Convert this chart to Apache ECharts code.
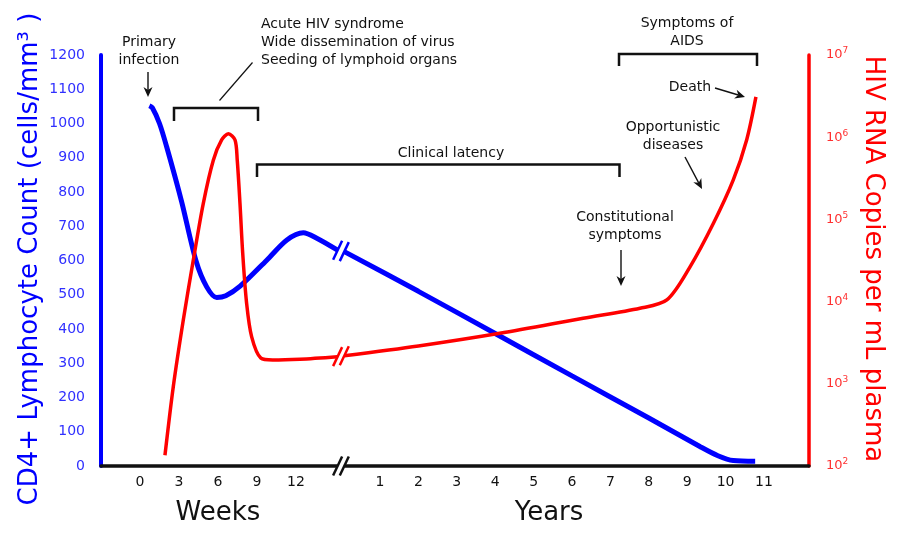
<!DOCTYPE html>
<html><head><meta charset="utf-8">
<script src="https://cdn.jsdelivr.net/npm/echarts@6/dist/echarts.min.js"></script>
<style>html,body{margin:0;padding:0;background:#fff}#c{width:900px;height:535px}</style>
</head><body><div id="c"></div>
<script>
// ---- data ----
const weekTicks = [0, 3, 6, 9, 12];
const yearTicks = [1, 2, 3, 4, 5, 6, 7, 8, 9, 10, 11];
// CD4 count (cells/mm3) during the first weeks: [week, count]
const cd4Weeks = [[0.72,1052],[0.95,1046],[1.5,1000],[2.05,932],[3.2,772],[4.3,600],[5.13,523],[5.9,492],[6.6,497],[7.7,525],[9.75,601],[11.3,660],[12.56,681],[13.6,665],[15.2,630]];
// CD4 count during the years: [year, count]
const cd4Years = [[0.07,626],[2,510],[4,387],[6,263],[8,140],[9.33,57],[9.8,30],[10.2,16],[10.77,14]];
// HIV RNA copies per mL during the first weeks: [week, copies]
const rnaWeeks = [[1.92,135],[2.56,923],[3.33,5970],[4.1,32000],[4.87,157000],[5.64,525000],[6.28,925000],[6.8,1100000],[7.31,925000],[7.48,525000],[7.69,157000],[7.9,38900],[8.2,9550],[8.59,3720],[9.3,2050],[10.2,1950],[12.3,1995],[15.2,2140]];
// HIV RNA copies per mL during the years: [year, copies]
const rnaYears = [[0.07,2190],[2,2880],[4.12,4110],[6.29,6270],[7.77,8300],[8.47,10470],[9.07,26300],[9.68,89000],[10.2,302000],[10.55,933000],[10.79,3090000]];

const BLUE = '#0000ff', RED = '#ff0000', INK = '#111111';
const FONT = 'DejaVu Sans';

const chart = echarts.init(document.getElementById('c'), null, {renderer: 'canvas'});

chart.setOption({
  animation: false,
  backgroundColor: '#fff',
  grid: {left: 101, right: 91, top: 55, bottom: 69, containLabel: false},
  xAxis: [
    {type: 'value', min: -3, max: 51.46, position: 'bottom',
     axisLine: {show: true, onZero: false, lineStyle: {color: INK, width: 3.5}},
     axisTick: {show: false}, splitLine: {show: false},
     axisLabel: {customValues: weekTicks, color: INK, fontSize: 14, fontFamily: FONT, margin: 9,
                 formatter: v => String(v)}},
    {type: 'value', min: -6.266, max: 12.172, position: 'bottom',
     axisLine: {show: false, onZero: false},
     axisTick: {show: false}, splitLine: {show: false},
     axisLabel: {customValues: yearTicks, color: INK, fontSize: 14, fontFamily: FONT, margin: 9,
                 formatter: v => String(v)}}
  ],
  yAxis: [
    {type: 'value', min: 0, max: 1200, interval: 100, position: 'left',
     axisLine: {show: true, onZero: false, lineStyle: {color: BLUE, width: 4}},
     axisTick: {show: false}, splitLine: {show: false},
     axisLabel: {color: '#3030ff', fontSize: 14, fontFamily: FONT, margin: 16, formatter: v => String(v)}},
    {type: 'log', logBase: 10, min: 100, max: 10000000, position: 'right',
     axisLine: {show: true, onZero: false, lineStyle: {color: RED, width: 3.5}},
     axisTick: {show: false}, splitLine: {show: false},
     axisLabel: {color: '#ff3030', fontSize: 13, fontFamily: FONT, margin: 17,
                 formatter: v => '10{s|' + Math.round(Math.log10(v)) + '}',
                 rich: {s: {fontSize: 9, fontFamily: FONT, color: '#ff3030', padding: [0, 0, 8, 0]}}}}
  ],
  series: [
    {name: 'CD4 weeks', type: 'line', xAxisIndex: 0, yAxisIndex: 0, data: cd4Weeks,
     smooth: 0.3, showSymbol: false, lineStyle: {color: BLUE, width: 5}, z: 3},
    {name: 'CD4 years', type: 'line', xAxisIndex: 1, yAxisIndex: 0, data: cd4Years,
     smooth: 0.3, showSymbol: false, lineStyle: {color: BLUE, width: 5}, z: 3},
    {name: 'RNA weeks', type: 'line', xAxisIndex: 0, yAxisIndex: 1, data: rnaWeeks,
     smooth: 0.3, showSymbol: false, lineStyle: {color: RED, width: 3.5}, z: 4},
    {name: 'RNA years', type: 'line', xAxisIndex: 1, yAxisIndex: 1, data: rnaYears,
     smooth: 0.3, showSymbol: false, lineStyle: {color: RED, width: 3.5}, z: 4}
  ]
});

// ---- decorations: break marks, titles, annotations ----
function slash(x, y, color, w) {
  return {type: 'line', shape: {x1: x - 4.5, y1: y + 9.5, x2: x + 4.5, y2: y - 9.5},
          style: {stroke: color, lineWidth: w}, z: 20};
}
function arrow(x1, y1, x2, y2) {
  const a = Math.atan2(y2 - y1, x2 - x1), c = Math.cos(a), s = Math.sin(a);
  const L = 10, W = 4.5, N = 3;
  const bx = x2 - L * c, by = y2 - L * s, mx = x2 - (L - N) * c, my = y2 - (L - N) * s;
  return [
    {type: 'line', shape: {x1, y1, x2: mx, y2: my}, style: {stroke: INK, lineWidth: 1.4}, z: 20},
    {type: 'polygon', shape: {points: [[x2, y2], [bx - s * W, by + c * W], [mx, my], [bx + s * W, by - c * W]]},
     style: {fill: INK}, z: 20}
  ];
}
function bracket(xa, xb, y, drop) {
  return {type: 'polyline', shape: {points: [[xa, y + drop], [xa, y], [xb, y], [xb, y + drop]]},
          style: {stroke: INK, lineWidth: 2.5, fill: null}, z: 20};
}
function txt(x, y, text, align, size, color, lh) {
  return {type: 'text', x, y, z: 20,
          style: {text, fill: color || INK, font: (size || 14) + 'px ' + FONT, align: align || 'center',
                  verticalAlign: 'top', lineHeight: lh || 18}};
}

const g = [];
// break marks, positioned from the series ends
const pBW = chart.convertToPixel({seriesIndex: 0}, cd4Weeks[cd4Weeks.length - 1]);
const pBY = chart.convertToPixel({seriesIndex: 1}, cd4Years[0]);
const pRW = chart.convertToPixel({seriesIndex: 2}, rnaWeeks[rnaWeeks.length - 1]);
const pRY = chart.convertToPixel({seriesIndex: 3}, rnaYears[0]);
g.push(slash(pBW[0], pBW[1], BLUE, 2.5), slash(pBY[0], pBY[1], BLUE, 2.5));
g.push(slash(pRW[0], pRW[1], RED, 2.5), slash(pRY[0], pRY[1], RED, 2.5));
const axY = chart.convertToPixel({yAxisIndex: 0}, 0);
g.push({type: 'rect', shape: {x: pBW[0], y: axY - 3, width: pBY[0] - pBW[0], height: 6}, style: {fill: '#fff'}, z: 19});
g.push(slash(pBW[0], axY, INK, 2.5), slash(pBY[0], axY, INK, 2.5));

// axis titles
g.push({type: 'text', x: 30, y: 259, rotation: Math.PI / 2, z: 20,
        style: {text: 'CD4+ Lymphocyte Count (cells/mm³ )', fill: BLUE, font: '26px ' + FONT,
                align: 'center', verticalAlign: 'middle'}});
g.push({type: 'text', x: 873, y: 259, rotation: -Math.PI / 2, z: 20,
        style: {text: 'HIV RNA Copies per mL plasma', fill: RED, font: '26px ' + FONT,
                align: 'center', verticalAlign: 'middle'}});
g.push({type: 'text', x: 218, y: 513, z: 20, style: {text: 'Weeks', fill: INK, font: '26px ' + FONT, align: 'center', verticalAlign: 'middle'}});
g.push({type: 'text', x: 549, y: 513, z: 20, style: {text: 'Years', fill: INK, font: '26px ' + FONT, align: 'center', verticalAlign: 'middle'}});

// annotations
g.push(txt(149, 33, 'Primary\ninfection'));
g.push(...arrow(148, 72, 148, 97));
g.push(txt(261, 15, 'Acute HIV syndrome\nWide dissemination of virus\nSeeding of lymphoid organs', 'left'));
g.push({type: 'line', shape: {x1: 252.5, y1: 62.5, x2: 219.5, y2: 100.5}, style: {stroke: INK, lineWidth: 1.2}, z: 20});
g.push(bracket(174, 258, 108, 13));
g.push(txt(451, 144, 'Clinical latency'));
g.push(bracket(257, 619.5, 164.5, 12.5));
g.push(txt(687, 14, 'Symptoms of\nAIDS'));
g.push(bracket(619, 757, 54, 12));
g.push(txt(690, 78, 'Death'));
g.push(...arrow(715, 88, 745, 97));
g.push(txt(673, 118, 'Opportunistic\ndiseases'));
g.push(...arrow(685, 157, 702, 189));
g.push(txt(625, 208, 'Constitutional\nsymptoms'));
g.push(...arrow(621, 250, 621, 286));

chart.setOption({graphic: g});
</script>
</body></html>
